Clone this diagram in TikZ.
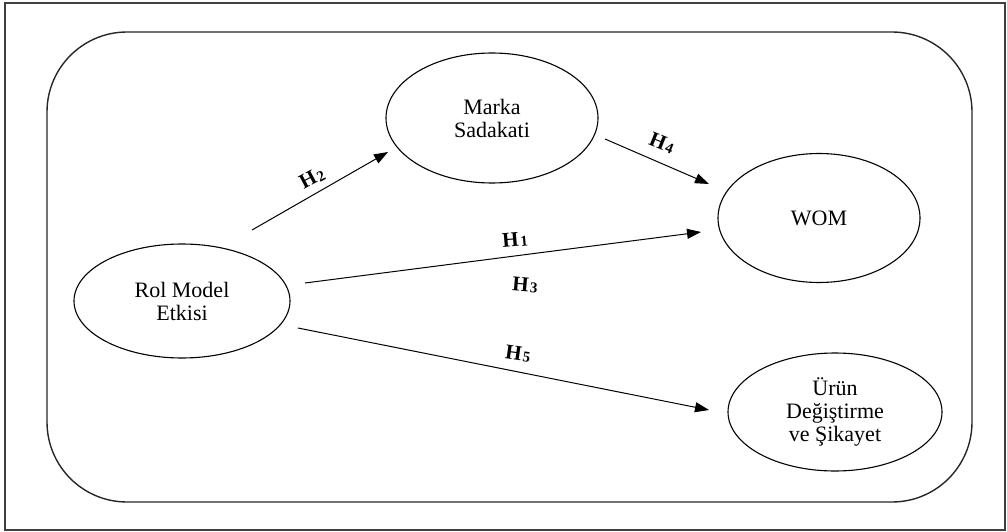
\documentclass[tikz,border=0pt]{standalone}
\usepackage{fontspec}
\setmainfont{Liberation Serif}
\usetikzlibrary{arrows.meta,shapes.geometric}
\tikzset{
  construct/.style={draw=black, line width=1.1pt, ellipse, inner sep=0pt, align=center,
    font=\fontsize{22}{23}\selectfont},
  arr/.style={line width=1pt, -{Triangle[length=14pt,width=10pt]}},
  hlab/.style={font=\fontsize{21}{22}\selectfont\bfseries, inner sep=0pt},
  frame/.style={draw=black!75, line width=1.4pt}
}
\newcommand{\hyp}[1]{H\kern1.5pt\raisebox{-1pt}{\fontsize{15}{15}\selectfont #1}}
\begin{document}
\begin{tikzpicture}[x=1pt,y=-1pt]
\useasboundingbox (0,0) rectangle (1007,532);
\draw[frame] (5,3) rectangle (1005,530);
\draw[draw=black!85, line width=1.4pt, rounded corners=80pt] (47,32) rectangle (972,502);
\node[construct, minimum width=212pt, minimum height=130pt] (marka) at (492,118) {Marka\\Sadakati};
\node[construct, minimum width=216pt, minimum height=114pt] (rol) at (182,301) {Rol Model\\Etkisi};
\node[construct, minimum width=202pt, minimum height=129pt] (wom) at (819,218) {WOM};
\node[construct, minimum width=214pt, minimum height=118pt] (urun) at (835,412) {Ürün\\Değiştirme\\ve Şikayet};
\coordinate (h2s) at (252,230);
\coordinate (h2e) at (388,152);
\coordinate (h4s) at (605,139);
\coordinate (h4e) at (709,184);
\coordinate (h1s) at (305,283);
\coordinate (h1e) at (701,232);
\coordinate (h5s) at (298,328);
\coordinate (h5e) at (709,410);
\draw[arr] (h2s) -- (h2e);
\draw[arr] (h4s) -- (h4e);
\draw[arr] (h1s) -- (h1e);
\draw[arr] (h5s) -- (h5e);
\node[hlab, rotate=28] (l2) at (312,178) {\hyp{2}};
\node[hlab, rotate=-22] (l4) at (662,143) {\hyp{4}};
\node[hlab, rotate=5] (l1) at (515,240) {\hyp{1}};
\node[hlab, rotate=-5] (l3) at (525,285) {\hyp{3}};
\node[hlab, rotate=-8] (l5) at (518,354) {\hyp{5}};
\end{tikzpicture}
\end{document}
